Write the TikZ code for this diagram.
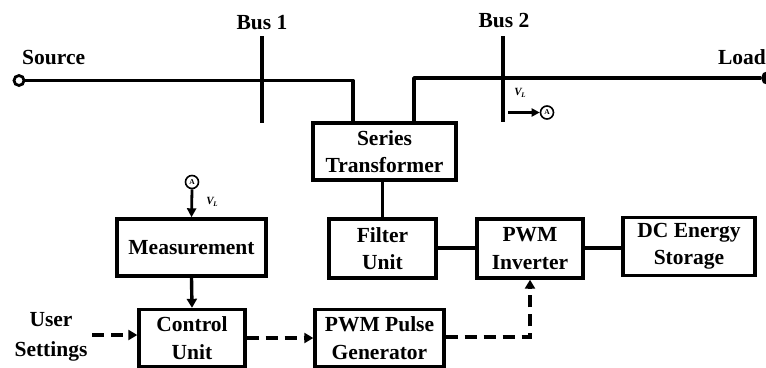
\documentclass[tikz,border=0pt]{standalone}
\usepackage{fontspec}
\setmainfont{Liberation Serif}
\usetikzlibrary{arrows.meta}
\newcommand{\vload}{V\kern-0.3pt\raisebox{-2.5pt}{\fontsize{7}{7}\selectfont L}}
\begin{document}
\begin{tikzpicture}[x=1pt,y=-1pt,
  blk/.style={draw,line width=3.4pt,rectangle,inner sep=0pt,align=center,
    font=\bfseries\fontsize{21.5}{27.5}\selectfont},
  lbl/.style={inner sep=0pt,align=center,font=\bfseries\fontsize{21.5}{30}\selectfont},
  busline/.style={line width=3.8pt},
  wire/.style={line width=3.4pt},
  tip/.style={-{Triangle[length=9pt,width=10pt]}},
  dashln/.style={line width=3.4pt,dash pattern=on 12pt off 7pt},
  meter/.style={circle,draw,line width=1.6pt,minimum size=13pt,inner sep=0pt,
    font=\bfseries\fontsize{7.5}{7.5}\selectfont},
  vl/.style={inner sep=0pt,font=\bfseries\itshape\fontsize{11}{11}\selectfont}]
\useasboundingbox (0,0) rectangle (766,367);

% blocks
\node[blk,minimum width=143pt,minimum height=57pt] (trans) at (384.5,151.5) {Series\\Transformer};
\node[blk,minimum width=149pt,minimum height=57pt] (meas) at (191.5,247.5) {Measurement};
\node[blk,minimum width=106pt,minimum height=57pt] (ctrl) at (192,338) {Control\\Unit};
\node[blk,minimum width=129pt,minimum height=57pt] (pulse) at (379.5,338) {PWM Pulse\\Generator};
\node[blk,minimum width=107pt,minimum height=59pt] (filter) at (382.5,248.5) {Filter\\Unit};
\node[blk,minimum width=106pt,minimum height=59pt] (inv) at (530,248.5) {PWM\\Inverter};
\node[blk,minimum width=132pt,minimum height=58pt] (dc) at (689,246.5) {DC Energy\\Storage};

% feeder terminals
\node[circle,draw,line width=2.8pt,minimum size=10pt,inner sep=0pt] (src) at (19,80.5) {};
\node[circle,draw,fill,line width=2.8pt,minimum size=11pt,inner sep=0pt] (load) at (768,78) {};
\node[lbl,anchor=base west] (srclbl) at (22,64) {Source};
\node[lbl,anchor=base east] (loadlbl) at (766,64) {Load};

% buses
\coordinate (b1t) at (262,36);
\coordinate (b1b) at (262,123);
\coordinate (b2t) at (503,36);
\coordinate (b2b) at (503,122);
\draw[busline] (b1t) -- (b1b);
\draw[busline] (b2t) -- (b2b);
\node[lbl,anchor=base] (bus1) at (262,29) {Bus 1};
\node[lbl,anchor=base] (bus2) at (504,27) {Bus 2};

% line side of the series transformer
\coordinate (tl) at (353,80.5);
\coordinate (tr) at (414,78);
\draw[busline,line join=round] (src.east) -- (tl) -- (tl |- trans.north);
\draw[busline,line join=round] (trans.north -| tr) -- (tr) -- (load.west);

% load-side voltage sensing
\node[meter] (m2) at (547,112.5) {A};
\coordinate (m2s) at (508,112.5);
\draw[line width=2.2pt,-{Triangle[length=8pt,width=8pt]}] (m2s) -- (m2.west);
\node[vl] (vl2) at (520,93) {\vload};

\node[meter] (m1) at (192,182) {A};
\draw[line width=2.8pt,-{Triangle[length=9pt,width=9pt]}] (m1.south) -- (meas.north);
\node[vl] (vl1) at (212,202) {\vload};

% power path
\draw[wire] (trans.south -| filter) -- (filter.north);
\coordinate (pw) at (0,248);
\draw[wire] (filter.east |- pw) -- (inv.west |- pw);
\draw[wire] (inv.east |- pw) -- (dc.west |- pw);

% control path
\draw[wire,tip] (meas.south) -- (ctrl.north);
\node[lbl] (user) at (51,337) {User\\Settings};
\coordinate (us) at (92,335);
\draw[dashln,tip] (us) -- (ctrl.west |- us);
\coordinate (cs) at (ctrl.east |- 0,338);
\draw[dashln,tip] (cs) -- (pulse.west |- cs);
\coordinate (pc) at (530,337);
\draw[dashln,tip] (pulse.east |- pc) -- (pc) -- (inv.south);
\end{tikzpicture}
\end{document}
